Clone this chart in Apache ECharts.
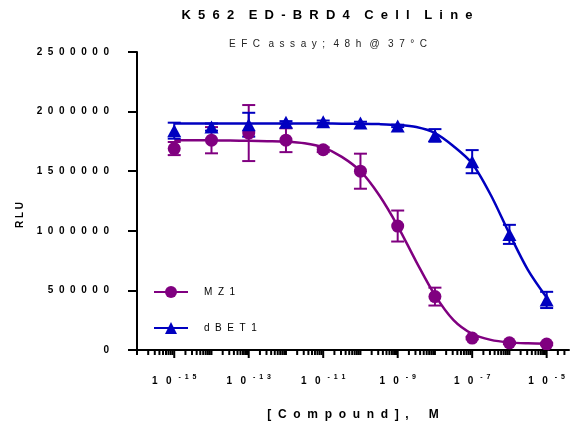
<!DOCTYPE html>
<html lang="en">
<head>
<meta charset="UTF-8">
<title>K562 ED-BRD4 Cell Line</title>
<script src="https://cdn.jsdelivr.net/npm/echarts@6.0.0/dist/echarts.min.js"></script>
</head>
<body style="margin:0">
<div id="main" style="width:572px;height:428px;"></div>
<script>
// x values are log10 of the concentration (M)
var logConc = [-15, -14, -13, -12, -11, -10, -9, -8, -7, -6, -5];
var mz1Mean = [1690000, 1760000, 1820000, 1760000, 1680000, 1500000, 1040000, 448000, 100000, 60000, 50000];
var mz1Sd = [55000, 110000, 235000, 100000, 20000, 147000, 130000, 75000, 10000, 10000, 10000];
var dbetMean = [1840000, 1870000, 1890000, 1910000, 1915000, 1905000, 1880000, 1800000, 1580000, 970000, 420000];
var dbetSd = [67000, 30000, 100000, 10000, 10000, 10000, 10000, 53000, 97000, 80000, 68000];

// fitted curves, every half decade
var fitX = [-15, -14.5, -14, -13.5, -13, -12.5, -12, -11.5, -11, -10.5, -10, -9.5, -9, -8.5, -8, -7.5, -7, -6.5, -6, -5.5, -5];
var mz1Fit = [1760000, 1760000, 1758000, 1757000, 1755000, 1752000, 1748000, 1735000, 1700000, 1620000, 1500000, 1300000, 1040000, 740000, 460000, 250000, 135000, 85000, 64000, 56000, 52000];
var dbetFit = [1900000, 1900000, 1900000, 1900000, 1900000, 1900000, 1900000, 1900000, 1900000, 1899000, 1898000, 1895000, 1888000, 1870000, 1820000, 1710000, 1565000, 1300000, 975000, 670000, 440000];

var tickDecades = [-16, -15, -14, -13, -12, -11, -10, -9, -8, -7, -6, -5];
var yTicks = [0, 500000, 1000000, 1500000, 2000000, 2500000];

var X_MIN = -16, X_MAX = -4.4;
var PURPLE = '#800080', BLUE = '#0000c0';
var FONT = 'Liberation Sans, Arial, sans-serif';

function spaced(s, gap, wordGap) {
    return s.split(' ').map(function (w) { return w.split('').join(gap); }).join(wordGap);
}
function zip(a, b) {
    return a.map(function (v, i) { return [v, b[i]]; });
}
function errRows(mean, sd) {
    return logConc.map(function (x, i) { return [x, mean[i] - sd[i], mean[i] + sd[i]]; });
}

function errRenderer(color) {
    return function (params, api) {
        var x = api.value(0);
        var lo = api.coord([x, api.value(1)]);
        var hi = api.coord([x, api.value(2)]);
        var w = 6.5;
        var st = {stroke: color, lineWidth: 2};
        return {
            type: 'group',
            children: [
                {type: 'line', shape: {x1: lo[0], y1: lo[1], x2: hi[0], y2: hi[1]}, style: st},
                {type: 'line', shape: {x1: lo[0] - w, y1: lo[1], x2: lo[0] + w, y2: lo[1]}, style: st},
                {type: 'line', shape: {x1: hi[0] - w, y1: hi[1], x2: hi[0] + w, y2: hi[1]}, style: st}
            ]
        };
    };
}

// log-style ticks on the x axis: decade ticks plus 2..9 minor ticks
function tickRenderer(params, api) {
    var d = api.value(0);
    var kids = [];
    var st = {stroke: '#000', lineWidth: 2};
    function add(v, len) {
        var p = api.coord([v, 0]);
        kids.push({type: 'line', shape: {x1: p[0], y1: p[1], x2: p[0], y2: p[1] + len}, style: st});
    }
    add(d, Math.abs(d) % 2 === 1 ? 8 : 5);
    for (var k = 2; k <= 9; k++) {
        var v = d + Math.log10(k);
        if (v > X_MAX) break;
        add(v, 5);
    }
    return {type: 'group', children: kids};
}

var chart = echarts.init(document.getElementById('main'));

var option = {
    animation: false,
    backgroundColor: '#fff',
    textStyle: {fontFamily: FONT},
    grid: {left: 137, right: 1, top: 52, bottom: 78},
    graphic: [
        {
            type: 'text', x: 327, y: 15,
            style: {text: spaced('K562 ED-BRD4 Cell Line', '  ', '    '), font: 'bold 13px ' + FONT,
                fill: '#000', textAlign: 'center', textVerticalAlign: 'middle'}
        },
        {
            type: 'text', x: 328, y: 44,
            style: {text: spaced('EFC assay; 48h @ 37°C', '  ', '   '), font: '10px ' + FONT,
                fill: '#222', textAlign: 'center', textVerticalAlign: 'middle'}
        },
        {
            type: 'text', x: 20, y: 215, rotation: Math.PI / 2,
            style: {text: 'R L U', font: 'bold 10px ' + FONT,
                fill: '#000', textAlign: 'center', textVerticalAlign: 'middle'}
        }
    ],
    legend: {
        data: ['MZ1', 'dBET1'],
        orient: 'vertical',
        left: 148,
        top: 281,
        itemWidth: 34,
        itemHeight: 15,
        itemGap: 24,
        formatter: function (n) { return n.split('').join('  '); },
        textStyle: {fontSize: 10, color: '#000', fontFamily: FONT, padding: [0, 0, 0, 11]}
    },
    xAxis: {
        type: 'value',
        min: X_MIN,
        max: X_MAX,
        interval: 1,
        name: spaced('[Compound], M', '  ', '      '),
        nameLocation: 'middle',
        nameGap: 59,
        nameTextStyle: {fontSize: 12, fontWeight: 'bold', color: '#000', fontFamily: FONT},
        axisLine: {show: true, lineStyle: {color: '#000', width: 2}},
        axisTick: {show: false},
        splitLine: {show: false},
        axisLabel: {
            margin: 24,
            formatter: function (v) {
                if (!Number.isInteger(v) || Math.abs(v) % 2 !== 1) return '';
                return '{b|1   0}{s|' + String(v).split('').join('  ') + '}';
            },
            rich: {
                b: {fontSize: 10, fontWeight: 'bold', color: '#000', fontFamily: FONT},
                s: {fontSize: 7, fontWeight: 'bold', color: '#000', fontFamily: FONT, padding: [0, 0, 8, 7]}
            }
        }
    },
    yAxis: {
        type: 'value',
        min: yTicks[0],
        max: yTicks[yTicks.length - 1],
        interval: yTicks[1] - yTicks[0],
        axisLine: {show: true, lineStyle: {color: '#000', width: 2}},
        axisTick: {show: true, length: 9, lineStyle: {color: '#000', width: 2}},
        splitLine: {show: false},
        axisLabel: {
            margin: 28,
            fontSize: 10,
            fontWeight: 'bold',
            color: '#000',
            fontFamily: FONT,
            formatter: function (v) { return String(v).split('').join('  '); }
        }
    },
    series: [
        {
            name: 'MZ1', type: 'line', data: zip(fitX, mz1Fit),
            showSymbol: false, symbol: 'circle', smooth: 0.3, z: 2,
            lineStyle: {color: PURPLE, width: 2.5}, itemStyle: {color: PURPLE}
        },
        {
            name: 'dBET1', type: 'line', data: zip(fitX, dbetFit),
            showSymbol: false, symbol: 'triangle', smooth: 0.3, z: 2,
            lineStyle: {color: BLUE, width: 2.5}, itemStyle: {color: BLUE}
        },
        {
            name: 'MZ1 sd', type: 'custom', data: errRows(mz1Mean, mz1Sd),
            renderItem: errRenderer(PURPLE), encode: {x: 0, y: [1, 2]}, z: 3, silent: true
        },
        {
            name: 'dBET1 sd', type: 'custom', data: errRows(dbetMean, dbetSd),
            renderItem: errRenderer(BLUE), encode: {x: 0, y: [1, 2]}, z: 3, silent: true
        },
        {
            name: 'MZ1', type: 'scatter', data: zip(logConc, mz1Mean),
            symbol: 'circle', symbolSize: 13, z: 4, itemStyle: {color: PURPLE, opacity: 1}
        },
        {
            name: 'dBET1', type: 'scatter', data: zip(logConc, dbetMean),
            symbol: 'triangle', symbolSize: [14, 13], z: 4, itemStyle: {color: BLUE, opacity: 1}
        },
        {
            type: 'custom', data: tickDecades.map(function (d) { return [d, 0]; }),
            renderItem: tickRenderer, encode: {x: 0, y: 1}, clip: false, z: 5, silent: true
        }
    ]
};

chart.setOption(option);
</script>
</body>
</html>
